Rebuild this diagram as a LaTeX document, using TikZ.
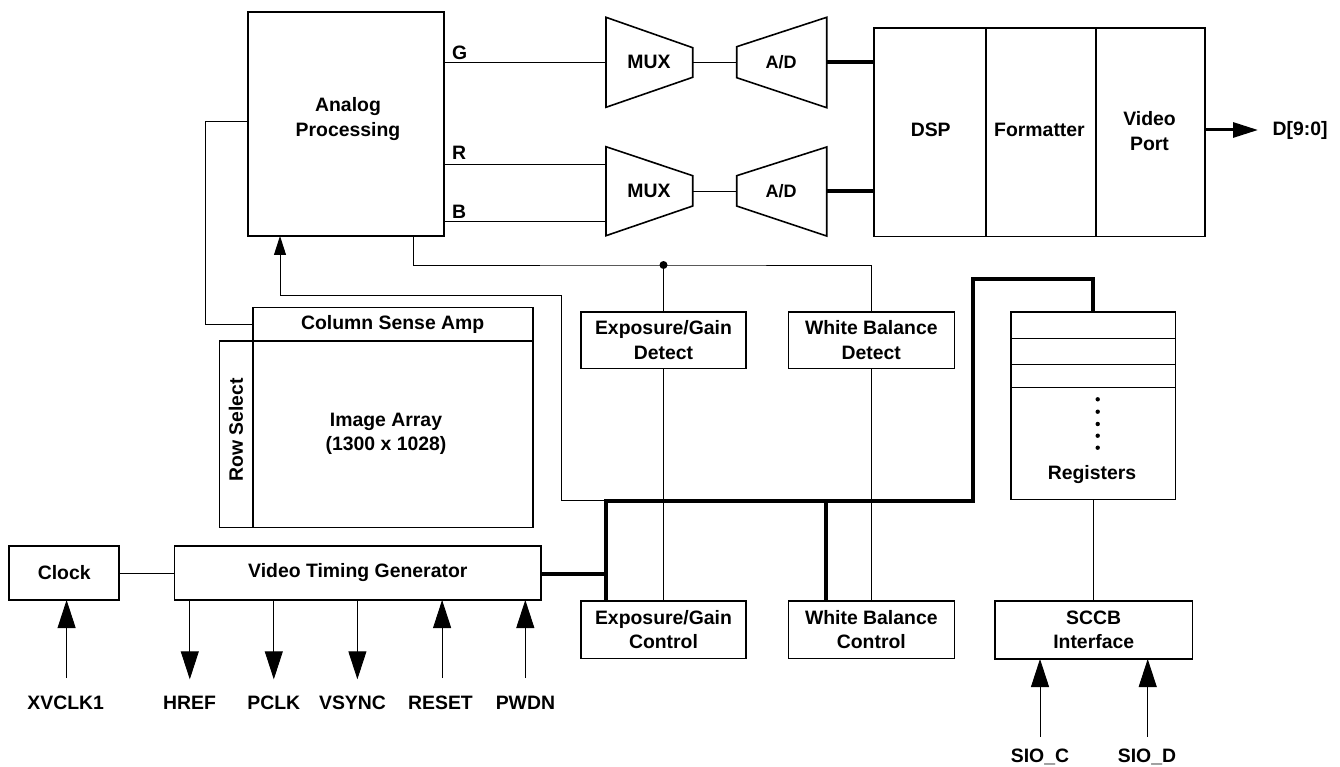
\documentclass[tikz,border=0pt]{standalone}
\usepackage{fontspec}
\setmainfont{Liberation Sans}
\usetikzlibrary{arrows.meta}
\begin{document}
\begin{tikzpicture}[x=1pt,y=-1pt,
  txt/.style={font=\fontsize{19.4}{24.5}\selectfont\bfseries},
  box/.style={draw,line width=1.6pt,inner sep=0pt,outer sep=0pt,align=center,txt},
  lbl/.style={inner sep=0pt,outer sep=0pt,align=center,txt},
  thin/.style={line width=0.9pt},
  bus/.style={line width=3.8pt},
  trap/.style={line width=1.6pt,line join=miter},
  bigarrow/.style={thin,-{Triangle[length=28pt,width=18pt]}},
  smallarrow/.style={thin,-{Triangle[length=19pt,width=12pt]}},
  outarrow/.style={line width=3pt,-{Triangle[length=25pt,width=15pt]}}]
\useasboundingbox (0,0) rectangle (1340,767);

% ---------- boxes ----------
\node[box,minimum width=196pt,minimum height=224pt] (ap) at (346,124) {};
\node[lbl] (aptxt) at (348,119) {Analog\\Processing};
\node[box,minimum width=280pt,minimum height=33.4pt] (csa) at (392.7,324) {Column Sense Amp};
\node[box,minimum width=33.4pt,minimum height=186.6pt] (rs) at (236,434) {};
\node[lbl,rotate=90] (rstxt) at (236,430) {Row Select};
\node[box,minimum width=280pt,minimum height=186.6pt] (ia) at (392.7,434) {};
\node[lbl] (iatxt) at (386,434) {Image Array\\(1300 x 1028)};
\node[box,minimum width=165pt,minimum height=56.6pt] (egd) at (663.5,340) {Exposure/Gain\\Detect};
\node[box,minimum width=166pt,minimum height=56.6pt] (wbd) at (871.3,340) {White Balance\\Detect};
\node[box,minimum width=165pt,minimum height=57.3pt] (egc) at (663.5,629.7) {Exposure/Gain\\Control};
\node[box,minimum width=166pt,minimum height=57.3pt] (wbc) at (871.3,629.7) {White Balance\\Control};
\node[box,minimum width=164.7pt,minimum height=187.6pt] (reg) at (1093.3,405.5) {};
\node[lbl] (regtxt) at (1092,475) {Registers};
\node[box,minimum width=197.3pt,minimum height=58pt] (sccb) at (1093.7,630) {SCCB\\Interface};
\node[box,minimum width=110pt,minimum height=54pt] (clk) at (64.2,573) {Clock};
\node[box,minimum width=366.3pt,minimum height=54pt] (vtg) at (357.8,573) {Video Timing Generator};
\node[box,minimum width=111.7pt,minimum height=208.4pt] (dsp) at (929.9,132.5) {};
\node[lbl] (dsptxt) at (930.7,130) {DSP};
\node[box,minimum width=110pt,minimum height=208.4pt] (fmt) at (1040.7,132.5) {};
\node[lbl] (fmttxt) at (1039.5,130) {Formatter};
\node[box,minimum width=109.3pt,minimum height=208.4pt] (vp) at (1150.4,132.5) {};
\node[lbl] (vptxt) at (1149.5,131) {Video\\Port};

% registers inner lines and dots
\foreach \yy in {338.3,364.3,387.3}
  \draw[thin] (reg.west |- 0,\yy) -- (reg.east |- 0,\yy);
\foreach \yy in {399.3,411.7,424,435.7,447.7}
  \fill (1097.7,\yy) circle (2.2pt);

% ---------- MUX and A/D trapezoids ----------
\draw[trap] (606,17.3) -- (692.7,47.7) -- (692.7,77.3) -- (606,107.3) -- cycle;
\node[lbl] (mux1) at (649,62) {MUX};
\draw[trap] (736.7,46.7) -- (826.7,17.3) -- (826.7,107.7) -- (736.7,77.7) -- cycle;
\node[lbl,font=\fontsize{18}{22}\selectfont\bfseries] (ad1) at (781,62) {A/D};
\draw[trap] (606,146.7) -- (692.7,175.7) -- (692.7,206) -- (606,235.7) -- cycle;
\node[lbl] (mux2) at (649,191) {MUX};
\draw[trap] (736.7,175.7) -- (826.7,147) -- (826.7,236) -- (736.7,206) -- cycle;
\node[lbl,font=\fontsize{18}{22}\selectfont\bfseries] (ad2) at (781,191) {A/D};

\coordinate (m1L) at (606,62.3);
\coordinate (m1R) at (692.7,62.3);
\coordinate (a1L) at (736.7,62.3);
\coordinate (a1R) at (826.7,62);
\coordinate (m2Rr) at (606,164.3);
\coordinate (m2Bb) at (606,221.7);
\coordinate (m2R) at (692.7,191);
\coordinate (a2L) at (736.7,191);
\coordinate (a2R) at (826.7,190.7);

% G R B lines
\draw[thin] (ap.east |- m1L) -- (m1L);
\draw[thin] (ap.east |- m2Rr) -- (m2Rr);
\draw[thin] (ap.east |- m2Bb) -- (m2Bb);
\node[lbl,anchor=west] (gl) at (452,53) {G};
\node[lbl,anchor=west] (rl) at (452,152.5) {R};
\node[lbl,anchor=west] (bl) at (452,211.7) {B};

\draw[thin] (m1R) -- (a1L);
\draw[thin] (m2R) -- (a2L);
\draw[bus] (a1R) -- (dsp.west |- a1R);
\draw[bus] (a2R) -- (dsp.west |- a2R);

% output
\coordinate (dout) at (1258,130);
\draw[outarrow] (vp.east |- dout) -- (dout);
\node[lbl,anchor=west] (dlbl) at (1272.7,130) {D[9:0]};

% left feedback from analog processing to column sense amp
\draw[thin] (ap.west |- 0,121.7) -- (205,121.7) -- (205,324) -- (csa.west);

% control line into analog processing
\coordinate (busL) at (606,500.7);
\draw[smallarrow] (busL) -- (561.7,500.7) -- (561.7,295) -- (280,295) -- (ap.south -| 280,0);

% analog processing to detect blocks
\coordinate (dot) at (663.5,265);
\draw[thin] (ap.south -| 413.3,0) -- (413.3,265) -- (dot) -- (871.3,265) -- (wbd.north);
\fill (dot) circle (4pt);
\draw[thin] (dot) -- (egd.north);
\draw[thin] (egd.south) -- (egc.north);
\draw[thin] (wbd.south) -- (wbc.north);

% thick bus
\draw[bus,line join=miter] (egc.north -| busL) -- (busL) -- (973,500.7) -- (973,279.3) -- (1093.3,279.3) -- (reg.north);
\draw[bus] (vtg.east |- 0,574) -- (606,574);
\draw[bus] (826,500.7) -- (egc.north -| 826,0);

\draw[thin] (reg.south) -- (sccb.north -| reg.south);
\draw[thin] (clk.east |- 0,573.3) -- (vtg.west |- 0,573.3);

% clock / timing pins
\draw[bigarrow] (66.6,678) -- (clk.south -| 66.6,0);
\node[lbl] (xv) at (65.7,702.7) {XVCLK1};
\draw[bigarrow] (vtg.south -| 189.8,0) -- (189.8,679.3);
\node[lbl] (href) at (189.6,702.7) {HREF};
\draw[bigarrow] (vtg.south -| 273.8,0) -- (273.8,679.3);
\node[lbl] (pclk) at (273.8,702.7) {PCLK};
\draw[bigarrow] (vtg.south -| 357.4,0) -- (357.4,679.3);
\node[lbl] (vsync) at (352.5,702.7) {VSYNC};
\draw[bigarrow] (442.1,678) -- (vtg.south -| 442.1,0);
\node[lbl] (reset) at (440.5,702.7) {RESET};
\draw[bigarrow] (525.3,678) -- (vtg.south -| 525.3,0);
\node[lbl] (pwdn) at (525.4,702.7) {PWDN};

% SCCB pins
\draw[bigarrow] (1040,736.7) -- (sccb.south -| 1040,0);
\node[lbl] (sioc) at (1040,757) {SIO\_C};
\draw[bigarrow] (1147.7,736.7) -- (sccb.south -| 1147.7,0);
\node[lbl] (siod) at (1147,757) {SIO\_D};
\end{tikzpicture}
\end{document}
